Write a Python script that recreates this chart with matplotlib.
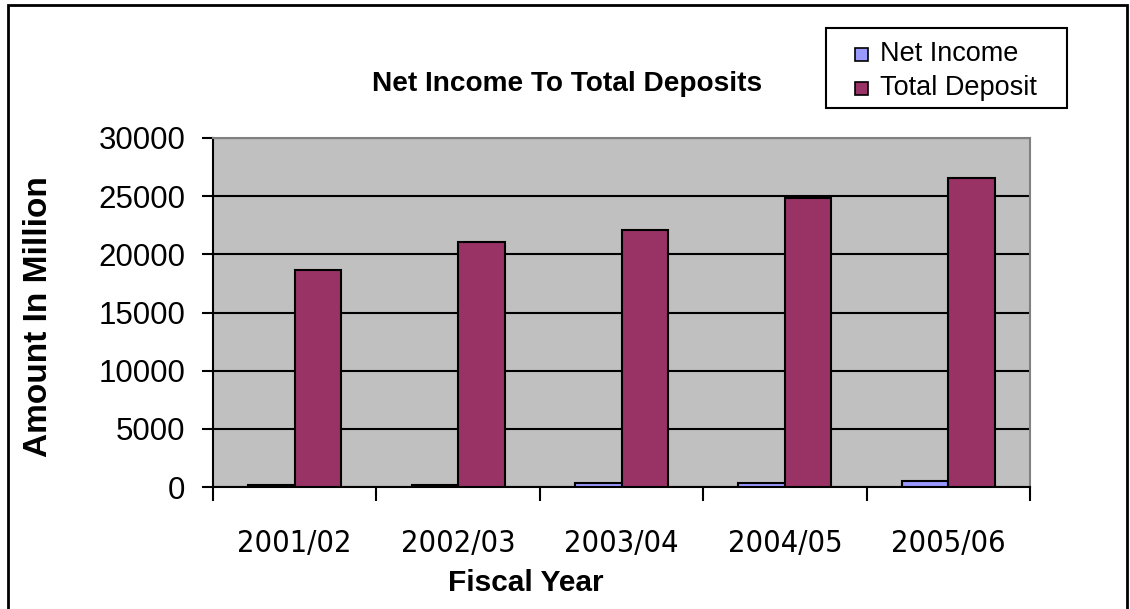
import matplotlib
matplotlib.use("Agg")
import matplotlib.pyplot as plt
import numpy as np
from matplotlib import font_manager
from matplotlib.patches import Rectangle

# Net income and total deposits per fiscal year (in million)
years = ["2001/02", "2002/03", "2003/04", "2004/05", "2005/06"]
net_income = [140, 160, 340, 370, 500]
total_deposit = [18620, 21060, 22100, 24800, 26530]
series_names = ["Net Income", "Total Deposit"]
series_colors = ["#9999FF", "#993366"]

plt.rcParams["font.family"] = ["Liberation Sans", "DejaVu Sans"]

# a narrow face for the year labels, if one is installed
narrow = None
for f in font_manager.fontManager.ttflist:
    if ("Narrow" in f.name or "Condensed" in f.name or f.stretch == "condensed") and "Mono" not in f.name \
            and "Serif" not in f.name and f.weight in (400, "normal", "regular") and f.style == "normal":
        narrow = f
        break

fig = plt.figure(figsize=(11.3, 6.09), dpi=100)
ax = fig.add_axes([0.1885, 0.2003, 0.723, 0.5731])

x = np.arange(len(years))
w = 0.285
ax.bar(x - w / 2, net_income, w, color=series_colors[0], edgecolor="black", linewidth=1.5, zorder=3)
ax.bar(x + w / 2, total_deposit, w, color=series_colors[1], edgecolor="black", linewidth=1.5, zorder=3)

ax.set_facecolor("#C0C0C0")
ax.set_xlim(-0.5, len(years) - 0.5)
ax.set_ylim(0, 30000)
ax.set_yticks(np.arange(0, 30001, 5000))
ax.yaxis.grid(True, color="black", linewidth=1.5, zorder=1)
ax.set_axisbelow(True)

# category labels in the middle, tick marks between categories
ax.set_xticks(x)
if narrow is not None:
    ax.set_xticklabels(years, fontproperties=font_manager.FontProperties(fname=narrow.fname, size=22))
else:
    ax.set_xticklabels(years, fontsize=20)
ax.set_xticks(np.arange(-0.5, len(years)), minor=True)
ax.tick_params(axis="x", which="major", length=0, pad=30)
ax.tick_params(axis="x", which="minor", length=10, width=1.5, direction="out")
ax.tick_params(axis="y", length=8, width=1.5, direction="out", pad=12, labelsize=22.5)

for s in ["left", "bottom"]:
    ax.spines[s].set_color("black")
    ax.spines[s].set_linewidth(1.5)
for s in ["top", "right"]:
    ax.spines[s].set_color("#808080")
    ax.spines[s].set_linewidth(1.5)

fig.text(0.502, 0.862, "Net Income To Total Deposits", ha="center", va="center",
         fontsize=20.2, fontweight="bold")
fig.text(0.4655, 0.0435, "Fiscal Year", ha="center", va="center", fontsize=21.5, fontweight="bold")
fig.text(0.0345, 0.481, "Amount In Million", ha="center", va="center", rotation=90,
         fontsize=24, fontweight="bold")

# legend box with square keys
W, H = 1130, 609
fig.patches.append(Rectangle((826 / W, 1 - 108 / H), 241 / W, 80 / H, transform=fig.transFigure,
                             facecolor="white", edgecolor="black", linewidth=1.5))
for i, (name, col) in enumerate(zip(series_names, series_colors)):
    yc = 54 + i * 34
    fig.patches.append(Rectangle((855 / W, 1 - (yc + 6.5) / H), 13 / W, 13 / H,
                                 transform=fig.transFigure, facecolor=col,
                                 edgecolor="black", linewidth=1.2))
    fig.text(880 / W, 1 - yc / H, name, ha="left", va="center", fontsize=19.5)

# chart border
fig.patches.append(Rectangle((8 / W, -0.05), 1119 / W, 1.05 - 5 / H,
                             transform=fig.transFigure, fill=False,
                             edgecolor="black", linewidth=2))

fig.savefig("out.png", dpi=100)
